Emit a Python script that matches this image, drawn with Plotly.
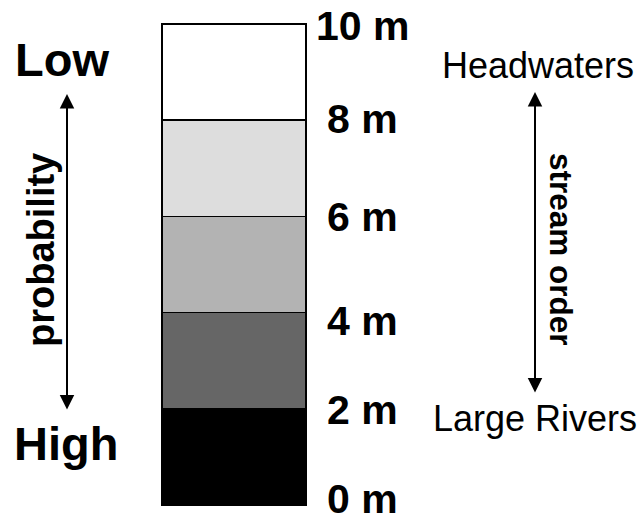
import plotly.graph_objects as go
import numpy as np

# ---- data ----
categories = ["depth"]
segment_heights = [2, 2, 2, 2, 2]          # metres per band, bottom to top
segment_colors = ["#000000", "#666666", "#b3b3b3", "#dddddd", "#ffffff"]
depth_labels = ["0 m", "2 m", "4 m", "6 m", "8 m", "10 m"]
prob_labels = ["Low", "High"]
order_labels = ["Headwaters", "Large Rivers"]
prob_title = "probability"
order_title = "stream order"

# ---- layout (pixels) ----
W, H = 643, 522
bar_top_px, bar_bot_px = 24, 505
bar_left_px, bar_right_px = 162, 306
label_yshift = [6, -1, -8.5, -0.3, 1.5, -2]   # hand placement of depth labels

total = sum(segment_heights)
ppu = (bar_bot_px - bar_top_px) / total
y_lo = -(H - bar_bot_px) / ppu
y_hi = total + bar_top_px / ppu
bw = (bar_right_px - bar_left_px)
x_lo = -((bar_left_px + bar_right_px) / 2) / bw
x_hi = x_lo + W / bw

def px(xp):
    return xp / W

def py(yp):
    return 1 - yp / H

FONT = "Arial, Liberation Sans, sans-serif"

fig = go.Figure()
for h, c in zip(segment_heights, segment_colors):
    fig.add_trace(go.Bar(
        x=[0], y=[h], width=[1],
        marker=dict(color=c, line=dict(color="#000000", width=1.6)),
        showlegend=False, hoverinfo="skip",
    ))

bounds = np.concatenate([[0], np.cumsum(segment_heights)])
ann = []
for b, lab, ys in zip(bounds, depth_labels, label_yshift):
    ann.append(dict(x=px(362), xref="paper", y=b, yref="y", text=f"<b>{lab}</b>",
                    showarrow=False, xanchor="center", yanchor="middle", yshift=ys,
                    font=dict(family=FONT, size=41, color="#000000")))

ann.append(dict(x=px(62), xref="paper", y=py(60), yref="paper", text=f"<b>{prob_labels[0]}</b>",
                showarrow=False, xanchor="center", yanchor="middle",
                font=dict(family=FONT, size=47, color="#000000")))
ann.append(dict(x=px(66), xref="paper", y=py(443), yref="paper", text=f"<b>{prob_labels[1]}</b>",
                showarrow=False, xanchor="center", yanchor="middle",
                font=dict(family=FONT, size=47, color="#000000")))
ann.append(dict(x=px(538), xref="paper", y=py(66), yref="paper", text=order_labels[0],
                showarrow=False, xanchor="center", yanchor="middle",
                font=dict(family=FONT, size=36, color="#000000")))
ann.append(dict(x=px(535), xref="paper", y=py(418), yref="paper", text=order_labels[1],
                showarrow=False, xanchor="center", yanchor="middle",
                font=dict(family=FONT, size=36, color="#000000")))
ann.append(dict(x=px(41), xref="paper", y=py(250), yref="paper", text=f"<b>{prob_title}</b>",
                showarrow=False, textangle=-90, xanchor="center", yanchor="middle",
                font=dict(family=FONT, size=38, color="#000000")))
ann.append(dict(x=px(561), xref="paper", y=py(249), yref="paper", text=f"<b>{order_title}</b>",
                showarrow=False, textangle=90, xanchor="center", yanchor="middle",
                font=dict(family=FONT, size=31.5, color="#000000")))

# double-headed arrows
for xa, ytop, ybot in [(67, 94, 411), (535, 92, 394)]:
    ann.append(dict(x=px(xa), xref="paper", y=py(ytop), yref="paper", text="",
                    showarrow=True, ax=0, axref="pixel", ay=ybot - ytop, ayref="pixel",
                    arrowside="end+start", arrowhead=2, startarrowhead=2,
                    arrowsize=1.45, startarrowsize=1.45, arrowwidth=2, arrowcolor="#000000"))

fig.update_layout(
    width=W, height=H, margin=dict(l=0, r=0, t=0, b=0),
    paper_bgcolor="white", plot_bgcolor="white",
    barmode="stack", bargap=0,
    xaxis=dict(visible=False, range=[x_lo, x_hi], fixedrange=True),
    yaxis=dict(visible=False, range=[y_lo, y_hi], fixedrange=True),
    annotations=ann, showlegend=False,
)
fig.write_html("out.html", config={"displayModeBar": False, "staticPlot": True},
               post_script="document.body.style.margin='0';document.body.style.overflow='hidden';")
